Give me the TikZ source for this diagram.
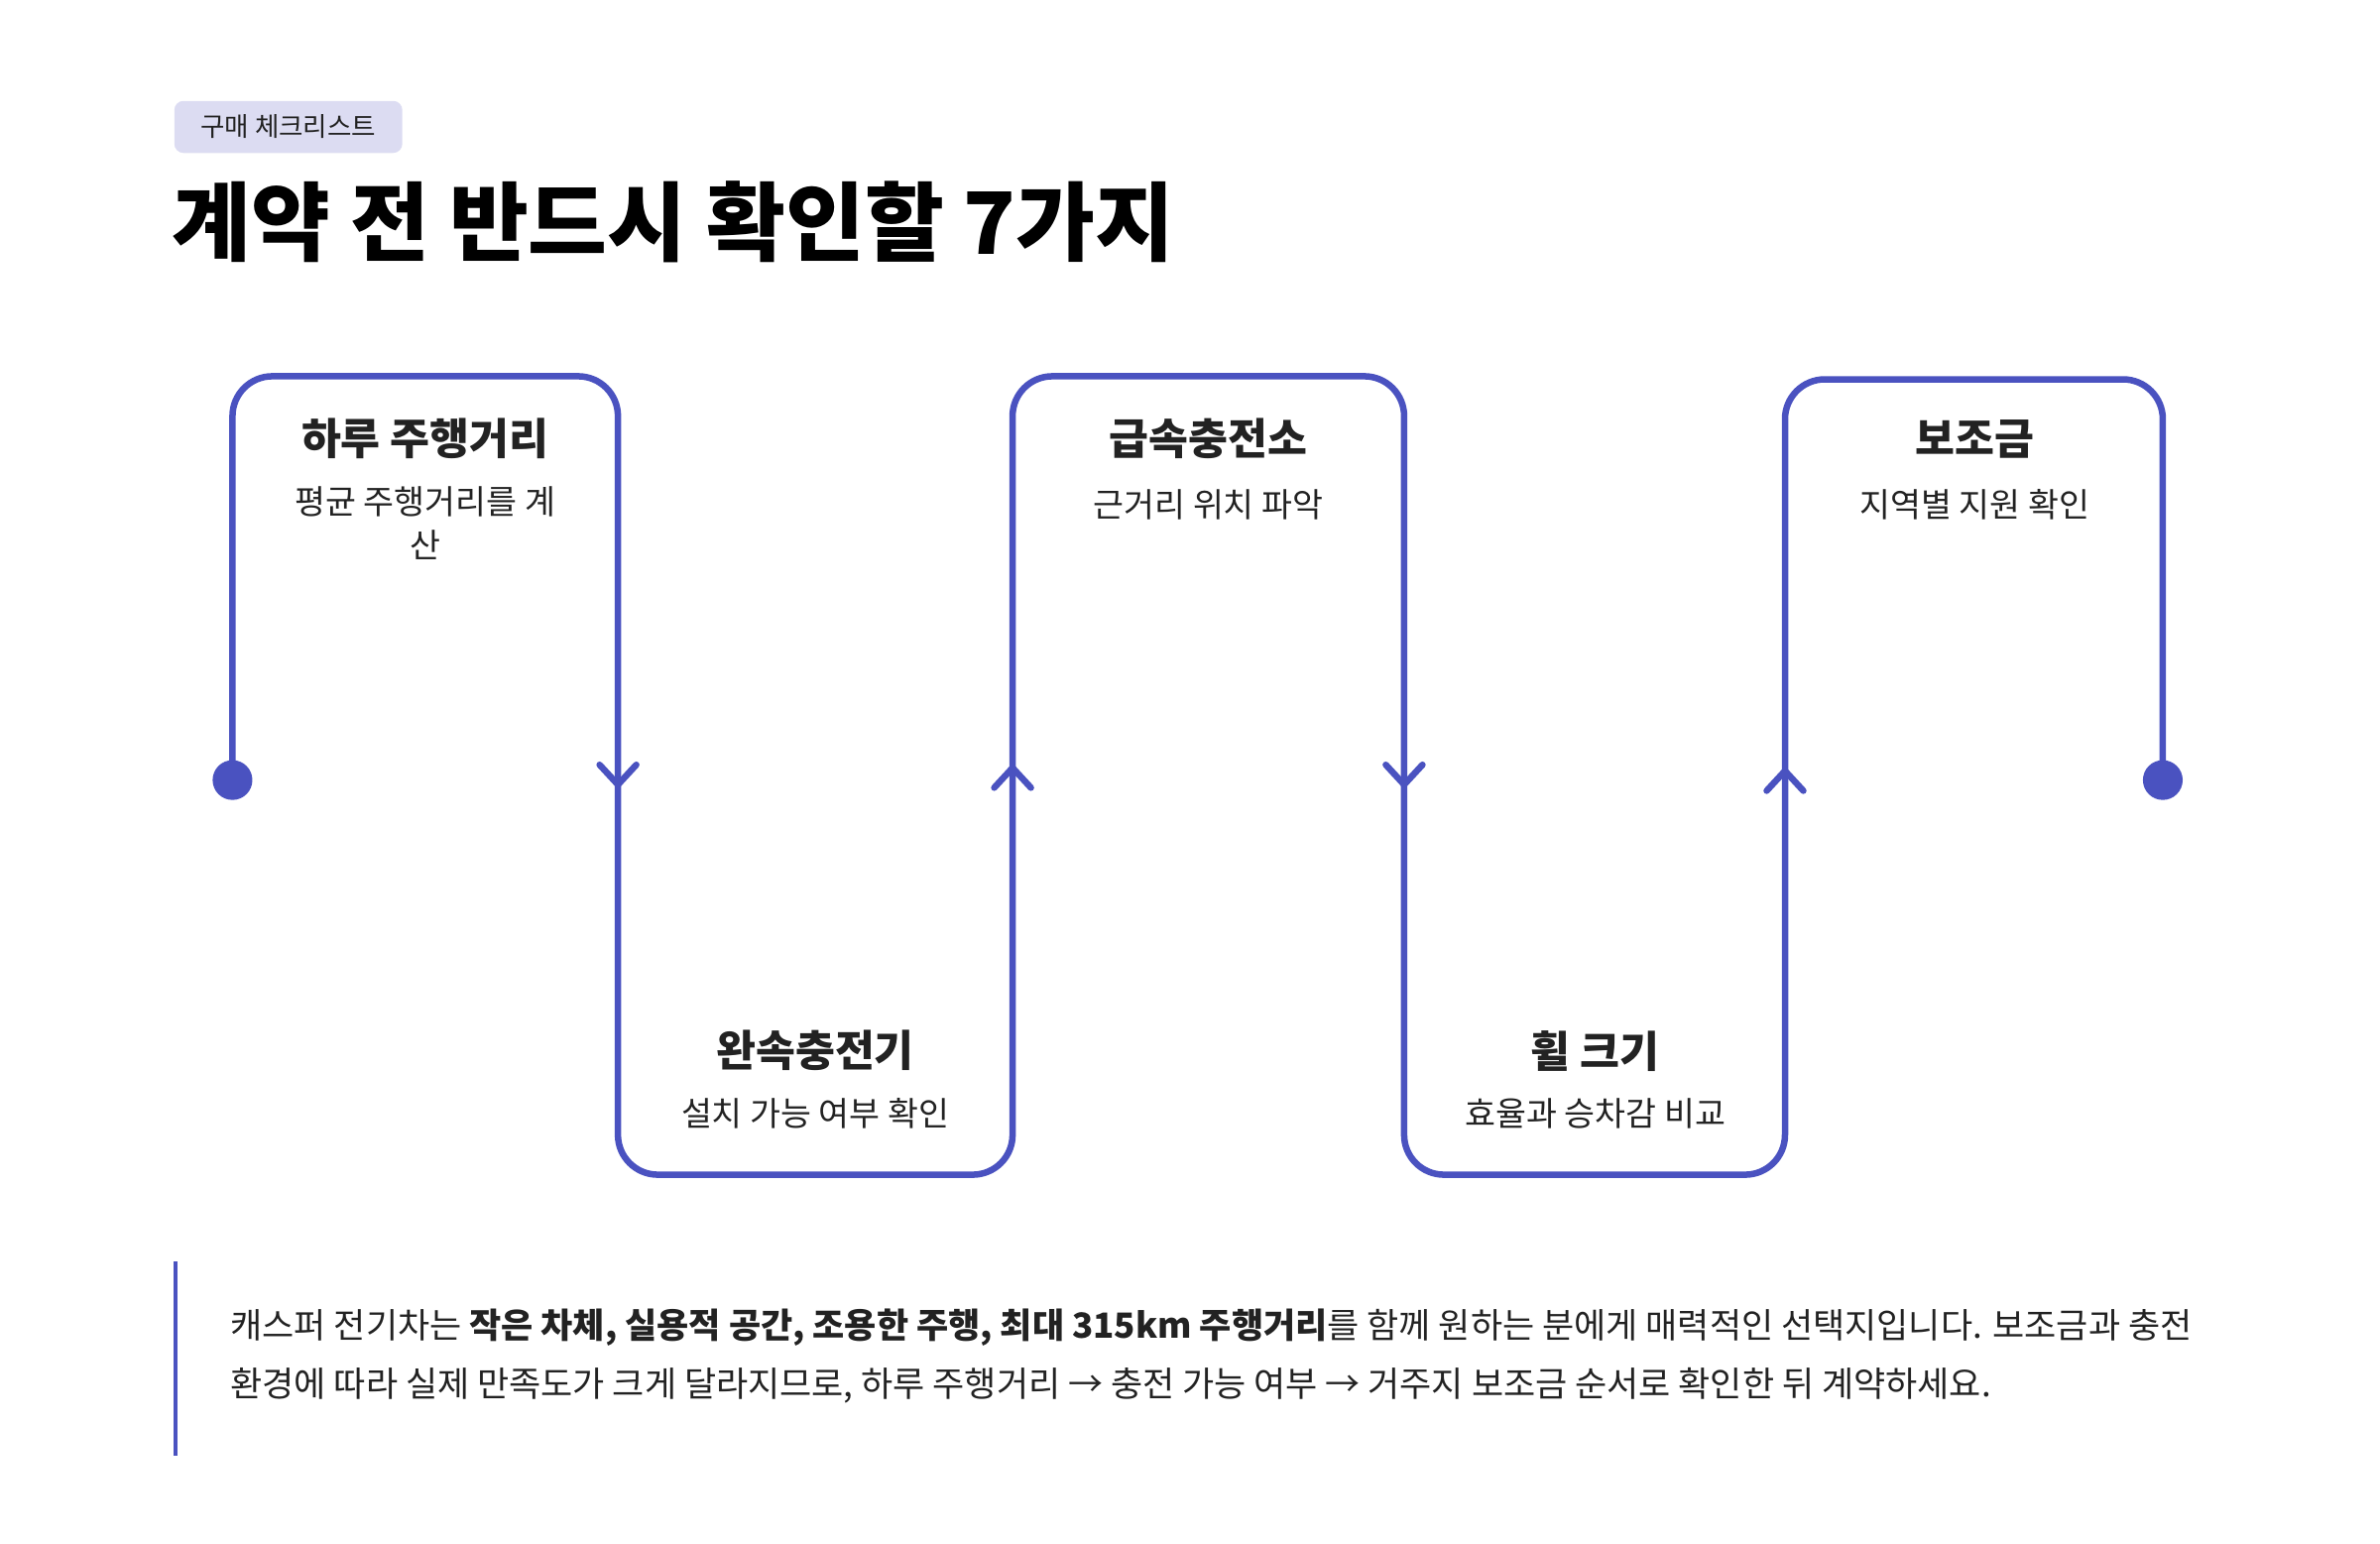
\documentclass[tikz,border=0pt]{standalone}
\usepackage{fontspec}
\setmainfont{Noto Sans CJK KR}
\begin{document}
\begin{tikzpicture}[x=0.01cm,y=-0.01cm,
  ln/.style={draw=blu,line width=1.2pt,line cap=round,line join=round},
  ttl/.style={font=\fontsize{8}{10}\selectfont\bfseries,text=txt},
  sub/.style={font=\fontsize{6.2}{8}\selectfont,text=txt,align=center}]
\definecolor{blu}{HTML}{4A52C0}
\definecolor{txt}{HTML}{222222}
\definecolor{tagc}{HTML}{DCDCF2}
\useasboundingbox (0,0) rectangle (1556,1009);
\node[fill=tagc,rounded corners=0.06cm,minimum width=1.49cm,minimum height=0.34cm,inner sep=0pt,font=\fontsize{4.9}{6}\selectfont,text=txt] (tag) at (188.5,83) {구매 체크리스트};
\node[anchor=west,inner sep=0pt,font=\fontsize{16}{20}\selectfont\bfseries] (title) at (112,145) {계약 전 반드시 확인할 7가지};
\coordinate (s) at (152,510);
\coordinate (e) at (1414,510);
\draw[ln,rounded corners=0.26cm] (s) -- (152,246) -- (404,246) -- (404,768) -- (662,768) -- (662,246) -- (918,246) -- (918,768) -- (1167,768) -- (1167,248) -- (1414,248) -- (e);
\fill[blu] (s) circle (13);
\fill[blu] (e) circle (13);
\draw[ln] (392,500) -- (404,513) -- (416,500);
\draw[ln] (650,515) -- (662,502) -- (674,515);
\draw[ln] (906,500) -- (918,513) -- (930,500);
\draw[ln] (1155,517) -- (1167,504) -- (1179,517);
\node[ttl] (t1) at (278,287) {하루 주행거리};
\node[sub,anchor=north] (d1) at (278,306) {평균 주행거리를 계\\산};
\node[ttl] (t2) at (533,687) {완속충전기};
\node[sub] (d2) at (533,728) {설치 가능 여부 확인};
\node[ttl] (t3) at (790,287) {급속충전소};
\node[sub] (d3) at (790,330) {근거리 위치 파악};
\node[ttl] (t4) at (1043,687) {휠 크기};
\node[sub] (d4) at (1043,728) {효율과 승차감 비교};
\node[ttl] (t5) at (1291,287) {보조금};
\node[sub] (d5) at (1291,330) {지역별 지원 확인};
\draw[blu,line width=0.7pt] (115,825) -- (115,952);
\node[anchor=west,inner sep=0pt,font=\fontsize{6.45}{8}\selectfont,text=txt] (p1) at (150,868) {캐스퍼 전기차는 \textbf{작은 차체, 실용적 공간, 조용한 주행, 최대 315km 주행거리}를 함께 원하는 분에게 매력적인 선택지입니다. 보조금과 충전};
\node[anchor=west,inner sep=0pt,font=\fontsize{6.45}{8}\selectfont,text=txt] (p2) at (150,906) {환경에 따라 실제 만족도가 크게 달라지므로, 하루 주행거리 → 충전 가능 여부 → 거주지 보조금 순서로 확인한 뒤 계약하세요.};
\end{tikzpicture}
\end{document}
